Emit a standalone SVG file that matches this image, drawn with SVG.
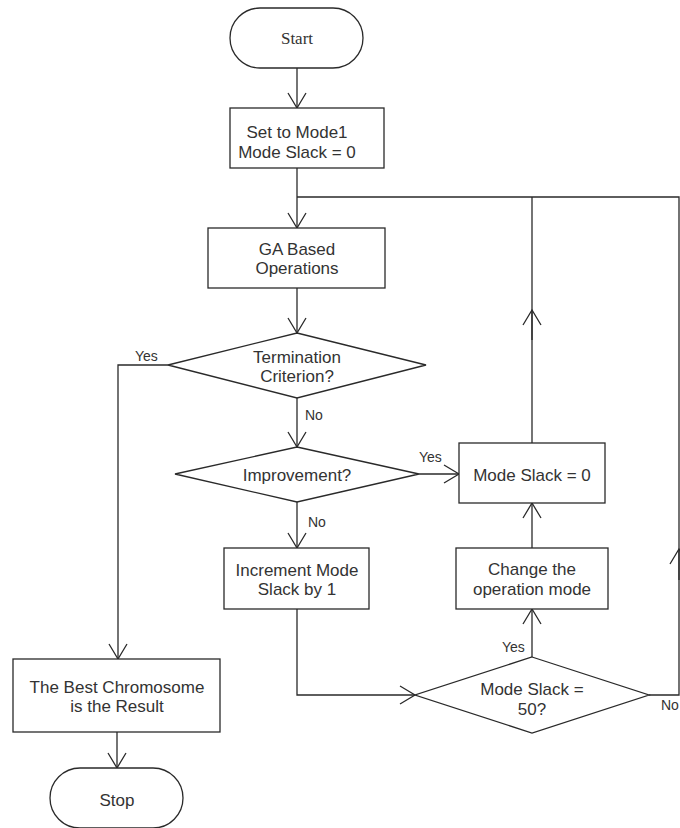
<svg xmlns="http://www.w3.org/2000/svg" width="680" height="828" viewBox="0 0 680 828">
  <style>
    .shape { fill: #ffffff; stroke: #2a2a2a; stroke-width: 1.3; }
    .wire { fill: none; stroke: #2a2a2a; stroke-width: 1.3; }
    .txt { font-family: "Liberation Sans", Arial, sans-serif; font-size: 17px; fill: #333333; text-anchor: middle; }
    .serif { font-family: "Liberation Serif", "Times New Roman", serif; }
    .lbl { font-family: "Liberation Sans", Arial, sans-serif; font-size: 14px; fill: #333333; }
  </style>
  <defs>
    <marker id="vee" viewBox="0 0 18 20" refX="16" refY="10" markerWidth="18" markerHeight="20" markerUnits="userSpaceOnUse" orient="auto">
      <path d="M1,1 L16,10 L1,19" fill="none" stroke="#2a2a2a" stroke-width="1.3"/>
    </marker>
  </defs>
  <rect width="680" height="828" fill="#ffffff"/>

  <!-- connectors -->
  <g id="connectors">
    <path class="wire" d="M297,68 L297,108" marker-end="url(#vee)"/>
    <path class="wire" d="M297,168 L297,228" marker-end="url(#vee)"/>
    <path class="wire" d="M297,288 L297,333" marker-end="url(#vee)"/>
    <path class="wire" d="M297,398 L297,447" marker-end="url(#vee)"/>
    <path class="wire" d="M168,365 L118,365 L118,659" marker-end="url(#vee)"/>
    <path class="wire" d="M117,732 L117,768" marker-end="url(#vee)"/>
    <path class="wire" d="M297,502 L297,548" marker-end="url(#vee)"/>
    <path class="wire" d="M419,474 L459,474" marker-end="url(#vee)"/>
    <path class="wire" d="M297,609 L297,695 L415,695" marker-end="url(#vee)"/>
    <path class="wire" d="M532,657 L532,609" marker-end="url(#vee)"/>
    <path class="wire" d="M532,548 L532,503" marker-end="url(#vee)"/>
    <path class="wire" d="M532,443 L532,197"/>
    <path class="wire" d="M532,340 L532,310" marker-end="url(#vee)"/>
    <path class="wire" d="M649,695 L679,695 L679,197 L297,197"/>
    <path class="wire" d="M679,580 L679,549" marker-end="url(#vee)"/>
    <text class="lbl" x="135" y="361">Yes</text>
    <text class="lbl" x="305" y="420">No</text>
    <text class="lbl" x="419" y="462">Yes</text>
    <text class="lbl" x="308" y="527">No</text>
    <text class="lbl" x="502" y="652">Yes</text>
    <text class="lbl" x="661" y="710">No</text>
  </g>

  <g id="start">
    <rect class="shape" x="230" y="8" width="133" height="60" rx="30" ry="30"/>
    <text class="txt serif" x="297" y="44">Start</text>
  </g>

  <g id="set-mode">
    <rect class="shape" x="230" y="108" width="154" height="60"/>
    <text class="txt" x="297" y="138">Set to Mode1</text>
    <text class="txt" x="297" y="158">Mode Slack = 0</text>
  </g>

  <g id="ga-ops">
    <rect class="shape" x="208" y="228" width="177" height="60"/>
    <text class="txt" x="297" y="255">GA Based</text>
    <text class="txt" x="297" y="274">Operations</text>
  </g>

  <g id="termination">
    <polygon class="shape" points="297,333 426,365 297,398 168,365"/>
    <text class="txt" x="297" y="363">Termination</text>
    <text class="txt" x="297" y="382">Criterion?</text>
  </g>

  <g id="improvement">
    <polygon class="shape" points="297,447 419,474 297,502 175,474"/>
    <text class="txt" x="297" y="481">Improvement?</text>
  </g>

  <g id="reset-slack">
    <rect class="shape" x="459" y="443" width="146" height="60"/>
    <text class="txt" x="532" y="481">Mode Slack = 0</text>
  </g>

  <g id="increment">
    <rect class="shape" x="224" y="548" width="145" height="61"/>
    <text class="txt" x="297" y="576">Increment Mode</text>
    <text class="txt" x="297" y="595">Slack by 1</text>
  </g>

  <g id="change-mode">
    <rect class="shape" x="456" y="548" width="152" height="61"/>
    <text class="txt" x="532" y="575">Change the</text>
    <text class="txt" x="532" y="595">operation mode</text>
  </g>

  <g id="slack-check">
    <polygon class="shape" points="532,657 649,695 532,733 415,695"/>
    <text class="txt" x="532" y="695">Mode Slack =</text>
    <text class="txt" x="532" y="715">50?</text>
  </g>

  <g id="best">
    <rect class="shape" x="13" y="659" width="207" height="73"/>
    <text class="txt" x="117" y="693">The Best Chromosome</text>
    <text class="txt" x="117" y="712">is the Result</text>
  </g>

  <g id="stop">
    <rect class="shape" x="50" y="768" width="133" height="60" rx="30" ry="30"/>
    <text class="txt" x="117" y="806">Stop</text>
  </g>
</svg>
